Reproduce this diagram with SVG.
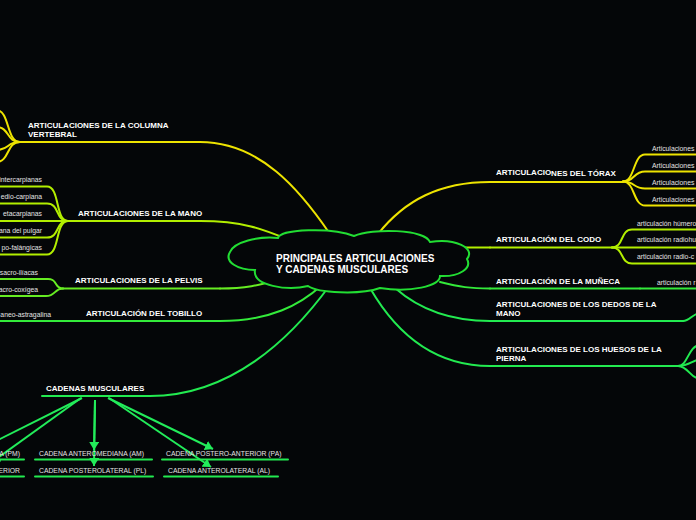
<svg xmlns="http://www.w3.org/2000/svg" width="696" height="520" viewBox="0 0 696 520">
<defs>
<style>
.b{font-family:"Liberation Sans",Arial,sans-serif;font-weight:bold;font-size:8px;fill:#ffffff}
.c{font-family:"Liberation Sans",Arial,sans-serif;font-size:6.8px;fill:#e4e4e4}
.ct{font-family:"Liberation Sans",Arial,sans-serif;font-weight:bold;font-size:10px;fill:#ffffff}
.l{fill:none;stroke-width:2;stroke-linecap:round}
.y{stroke:#ede300}
.yg{stroke:#b2ee00}
.lg{stroke:#66ec22}
.g{stroke:#33ea3a}
.gg{stroke:#22ea50}
.ar{stroke:#22ec5a;stroke-width:2;fill:none}
</style>
<marker id="ah" viewBox="0 0 8 10" markerWidth="8" markerHeight="10" refX="8" refY="5" orient="auto" markerUnits="userSpaceOnUse">
<path d="M0,0 L8,5 L0,10 Z" fill="#22ec5a"/>
</marker>
</defs>
<rect width="696" height="520" fill="#040608"/>

<g id="connectors">
<path class="l y" d="M200,142 C260,142 300,190 330,234"/>
<path class="l yg" d="M200,221 C245,221 265,230 292,241"/>
<path class="l lg" d="M220,288.5 C250,288.5 262,284 276,280"/>
<path class="l g" d="M220,321 C270,321 300,305 322,285"/>
<path class="l gg" d="M150,396 C230,396 290,340 330,285"/>
<path class="l y" d="M378,234 C405,200 440,182 490,182"/>
<path class="l yg" d="M450,247.5 L490,247.5"/>
<path class="l g" d="M440,282 C460,287 470,288.5 490,288.5"/>
<path class="l gg" d="M395,288 C420,310 450,321 490,321"/>
<path class="l gg" d="M370,288 C400,340 440,366 490,366"/>
<path class="l y" d="M20,142 C6,142 10,110 -4,110"/>
<path class="l y" d="M20,142 C6,142 10,127 -4,127"/>
<path class="l y" d="M20,142 C6,142 10,150 -4,150"/>
<path class="l y" d="M20,142 C6,142 10,162 -4,162"/>
<path class="l yg" d="M68,221 C55,221 60,186.5 47,186.5 L-2,186.5"/>
<path class="l yg" d="M68,221 C55,221 60,203.5 47,203.5 L-2,203.5"/>
<path class="l yg" d="M68,221 L-2,221"/>
<path class="l yg" d="M68,221 C55,221 60,237.5 47,237.5 L-2,237.5"/>
<path class="l yg" d="M68,221 C55,221 60,254.5 47,254.5 L-2,254.5"/>
<path class="l lg" d="M63,288.5 C54,288.5 58,279 48,279 L-2,279"/>
<path class="l lg" d="M63,288.5 C54,288.5 56,296 46,296 L-2,296"/>
<path class="l g" d="M86,321 L-2,321"/>
<path class="l y" d="M623,181.5 C635,181.5 633,154.5 645,154.5 L698,154.5"/>
<path class="l y" d="M623,181.5 C635,181.5 633,171.5 645,171.5 L698,171.5"/>
<path class="l y" d="M623,181.5 C635,181.5 633,188.5 645,188.5 L698,188.5"/>
<path class="l y" d="M623,181.5 C635,181.5 633,205.5 645,205.5 L698,205.5"/>
<path class="l yg" d="M612,247.5 C624,247.5 620,229.5 632,229.5 L698,229.5"/>
<path class="l yg" d="M612,247.5 L698,247.5"/>
<path class="l yg" d="M612,247.5 C624,247.5 620,263.5 632,263.5 L698,263.5"/>
<path class="l g" d="M640,288.5 L698,288.5"/>
<path class="l gg" d="M683,321 C690,321 692,314 700,313"/>
<path class="l gg" d="M678,366 C688,366 688,346 700,345"/>
<path class="l gg" d="M678,366 C690,366 692,360 704,358"/>
<path class="l gg" d="M678,366 C688,366 690,378 700,379"/>
<line class="ar" x1="82" y1="398" x2="-20" y2="449" marker-end="url(#ah)"/>
<line class="ar" x1="81" y1="398" x2="-8" y2="462" marker-end="url(#ah)"/>
<line class="ar" x1="95" y1="400" x2="94" y2="450" marker-end="url(#ah)"/>
<line class="ar" x1="95" y1="400" x2="94" y2="466" marker-end="url(#ah)"/>
<line class="ar" x1="108" y1="398" x2="213" y2="449" marker-end="url(#ah)"/>
<line class="ar" x1="109" y1="398" x2="211" y2="467" marker-end="url(#ah)"/>
</g>

<g id="center">
<path d="M278,238 C280,229 332,227 354,236 C372,228 425,229 430,242 C455,238 476,248 467,259 C472,268 460,277 440,276 C440,286 410,293 380,288 C360,295 318,293 308,286 C288,291 252,286 255,270 C238,270 224,262 230,252 C234,242 258,236 278,238 Z" fill="#040608" stroke="#22dd33" stroke-width="2"/>
<text class="ct" x="276" y="262">PRINCIPALES ARTICULACIONES</text>
<text class="ct" x="276" y="272.5">Y CADENAS MUSCULARES</text>
</g>

<g id="n-columna">
<line class="l y" x1="20" y1="142" x2="200" y2="142"/>
<text class="b" x="28" y="128">ARTICULACIONES DE LA COLUMNA</text>
<text class="b" x="28" y="137">VERTEBRAL</text>
</g>
<g id="n-mano">
<line class="l yg" x1="68" y1="221" x2="200" y2="221"/>
<text class="b" x="78" y="216">ARTICULACIONES DE LA MANO</text>
</g>
<g id="n-mano-1"><text class="c" x="42" y="182" text-anchor="end">intercarpianas</text></g>
<g id="n-mano-2"><text class="c" x="42" y="199" text-anchor="end">edio-carpiana</text></g>
<g id="n-mano-3"><text class="c" x="42" y="216" text-anchor="end">etacarpianas</text></g>
<g id="n-mano-4"><text class="c" x="42" y="233" text-anchor="end">ana del pulgar</text></g>
<g id="n-mano-5"><text class="c" x="42" y="250" text-anchor="end">po-falángicas</text></g>

<g id="n-pelvis">
<line class="l lg" x1="63" y1="288.5" x2="220" y2="288.5"/>
<text class="b" x="75" y="283">ARTICULACIONES DE LA PELVIS</text>
</g>
<g id="n-pelvis-1"><text class="c" x="38" y="274.5" text-anchor="end">sacro-ilíacas</text></g>
<g id="n-pelvis-2"><text class="c" x="38" y="291.5" text-anchor="end">acro-coxígea</text></g>

<g id="n-tobillo">
<line class="l g" x1="86" y1="321" x2="220" y2="321"/>
<text class="b" x="86" y="315.5">ARTICULACIÓN DEL TOBILLO</text>
</g>
<g id="n-tobillo-1"><text class="c" x="51" y="317" text-anchor="end">aneo-astragalina</text></g>

<g id="n-cadenas">
<line class="l gg" x1="42" y1="396" x2="150" y2="396"/>
<text class="b" x="46" y="390.5">CADENAS MUSCULARES</text>
</g>
<g id="n-pm">
<line class="l gg" x1="-2" y1="459.5" x2="24" y2="459.5"/>
<text class="c" x="20" y="456" text-anchor="end">A (PM)</text>
</g>
<g id="n-erior">
<line class="l gg" x1="-2" y1="476.5" x2="24" y2="476.5"/>
<text class="c" x="20" y="473" text-anchor="end">ERIOR</text>
</g>
<g id="n-am">
<line class="l gg" x1="35" y1="459.5" x2="152" y2="459.5"/>
<text class="c" x="39" y="456">CADENA ANTEROMEDIANA (AM)</text>
</g>
<g id="n-pl">
<line class="l gg" x1="35" y1="476.5" x2="153" y2="476.5"/>
<text class="c" x="39" y="473">CADENA POSTEROLATERAL (PL)</text>
</g>
<g id="n-pa">
<line class="l gg" x1="162" y1="459.5" x2="288" y2="459.5"/>
<text class="c" x="166" y="456">CADENA POSTERO-ANTERIOR (PA)</text>
</g>
<g id="n-al">
<line class="l gg" x1="164" y1="476.5" x2="278" y2="476.5"/>
<text class="c" x="168" y="473">CADENA ANTEROLATERAL (AL)</text>
</g>

<g id="n-torax">
<line class="l y" x1="490" y1="182" x2="623" y2="182"/>
<text class="b" x="496" y="175">ARTICULACIO<tspan dy="0.8">NES DEL TÓRAX</tspan></text>
</g>
<g id="n-torax-1"><text class="c" x="652" y="150.5">Articulaciones</text></g>
<g id="n-torax-2"><text class="c" x="652" y="167.5">Articulaciones</text></g>
<g id="n-torax-3"><text class="c" x="652" y="184.5">Articulaciones</text></g>
<g id="n-torax-4"><text class="c" x="652" y="201.5">Articulaciones</text></g>

<g id="n-codo">
<line class="l yg" x1="490" y1="247.5" x2="612" y2="247.5"/>
<text class="b" x="496" y="241.5">ARTICULACIÓ<tspan dy="0.8">N DEL CODO</tspan></text>
</g>
<g id="n-codo-1"><text class="c" x="637" y="225.5">articulación húmero</text></g>
<g id="n-codo-2"><text class="c" x="637" y="242">articulación radiohu</text></g>
<g id="n-codo-3"><text class="c" x="637" y="258.5">articulación radio-c</text></g>

<g id="n-muneca">
<line class="l g" x1="490" y1="288.5" x2="640" y2="288.5"/>
<text class="b" x="496" y="284">ARTICULACIÓN DE LA MUÑECA</text>
</g>
<g id="n-muneca-1"><text class="c" x="657" y="285">articulación r</text></g>

<g id="n-dedos">
<line class="l gg" x1="490" y1="321" x2="683" y2="321"/>
<text class="b" x="496" y="306.5">ARTICULACIO<tspan dy="0.8">NES DE LOS DEDOS DE LA</tspan></text>
<text class="b" x="496" y="315.5">MANO</text>
</g>

<g id="n-pierna">
<line class="l gg" x1="490" y1="366" x2="678" y2="366"/>
<text class="b" x="496" y="351.5">ARTICULACIO<tspan dy="0.8">NES DE LOS HUESOS DE LA</tspan></text>
<text class="b" x="496" y="360.5">PIERNA</text>
</g>
</svg>
